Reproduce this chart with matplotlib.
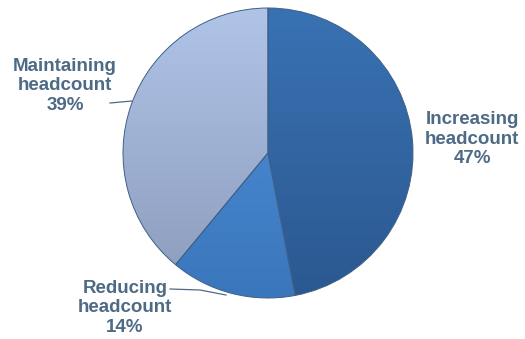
import numpy as np
import matplotlib
matplotlib.use("Agg")
import matplotlib.pyplot as plt
from matplotlib.colors import LinearSegmentedColormap

labels = ["Increasing\nheadcount\n47%", "Reducing\nheadcount\n14%", "Maintaining\nheadcount\n39%"]
values = [47, 14, 39]
# gradient colours per slice (top, bottom)
grads = [("#3972B3", "#2B5890"), ("#5093DB", "#3A76BC"), ("#B0C4E8", "#8B9BBB")]
text_col = "#4E6B86"

plt.rcParams['font.family'] = ['Liberation Sans', 'DejaVu Sans']

W, H = 525, 339
fig = plt.figure(figsize=(W / 100, H / 100), dpi=100)
ax = fig.add_axes([0, 0, 1, 1])

def py(y):
    # pixel row from top -> data y (up)
    return H - y

cx, cy, r = 268, py(153), 145

wedges, _ = ax.pie(values, startangle=90, counterclock=False, radius=r,
                   center=(cx, cy), colors=[g[0] for g in grads],
                   wedgeprops=dict(edgecolor="#3E5F86", linewidth=0.7))
ax.axis("off")

grad = np.linspace(0, 1, 256).reshape(-1, 1)
for w, (c1, c2) in zip(wedges, grads):
    cm = LinearSegmentedColormap.from_list("g", [c1, c2])
    im = ax.imshow(grad, cmap=cm, extent=(cx - r, cx + r, cy - r, cy + r),
                   origin="upper", aspect="auto", zorder=w.get_zorder() + 0.1)
    im.set_clip_path(w)
    w.set_facecolor("none")
    w.set_zorder(w.get_zorder() + 0.2)
ax.set_xlim(0, W)
ax.set_ylim(0, H)

fs = 13.5
ls = 1.22
ax.text(472, py(139), labels[0], ha="center", va="center", fontsize=fs,
        fontweight="bold", color=text_col, linespacing=ls)
ax.text(125, py(308), labels[1], ha="center", va="center", fontsize=fs,
        fontweight="bold", color=text_col, linespacing=ls)
ax.text(65, py(86), labels[2], ha="center", va="center", fontsize=fs,
        fontweight="bold", color=text_col, linespacing=ls)

# leader lines
ax.plot([110, 132], [py(103), py(101)], color=text_col, lw=0.9, zorder=5)
ax.plot([170, 200, 226], [py(289), py(290), py(295)], color=text_col, lw=0.9, zorder=5)

fig.savefig("out.png", dpi=100)
